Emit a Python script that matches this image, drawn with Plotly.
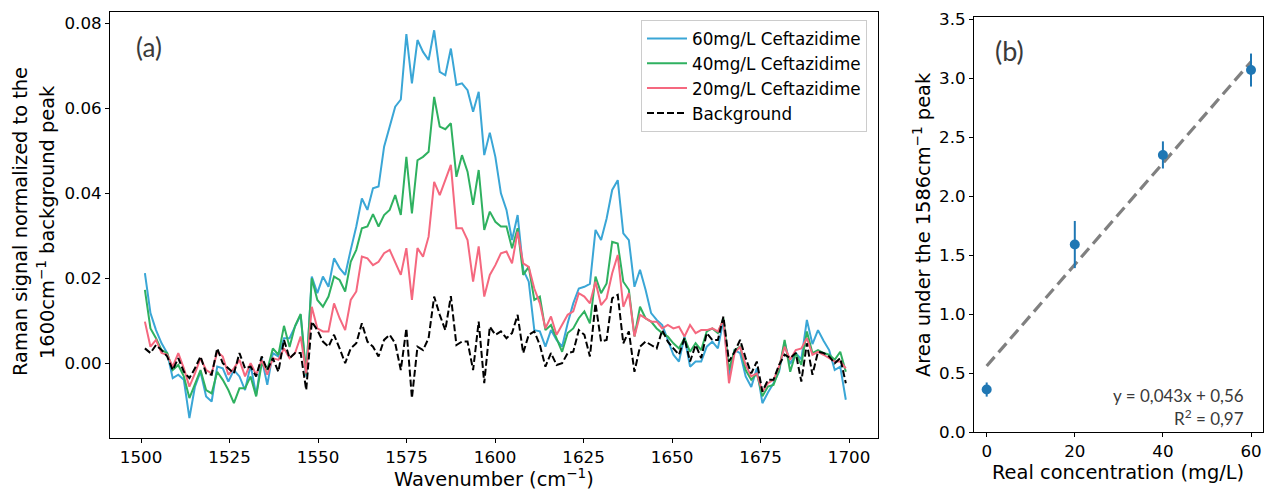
import numpy as np
import plotly.graph_objects as go

W, H = 1266, 493

# ---------------- Panel (a) data ----------------
wavenumber = np.round(np.linspace(1501.1, 1699.1, 127), 2)

ceftazidime_60 = [
    0.0212, 0.0118, 0.0078, 0.0047, 0.0024, -0.0035, -0.0027, -0.0039, -0.0129, -0.0055,
    -0.0020, -0.0078, -0.0090, -0.0008, -0.0012, -0.0043, -0.0016, -0.0031, -0.0063, -0.0004,
    -0.0075, 0.0012, -0.0051, 0.0024, 0.0016, 0.0059, 0.0059, 0.0086, 0.0114, -0.0031,
    0.0204, 0.0165, 0.0204, 0.0180, 0.0247, 0.0224, 0.0208, 0.0267, 0.0322, 0.0388,
    0.0361, 0.0412, 0.0416, 0.0510, 0.0557, 0.0604, 0.0621, 0.0775, 0.0659, 0.0761,
    0.0733, 0.0714, 0.0784, 0.0686, 0.0678, 0.0741, 0.0655, 0.0659, 0.0643, 0.0592,
    0.0639, 0.0490, 0.0543, 0.0486, 0.0400, 0.0361, 0.0290, 0.0349, 0.0220, 0.0192,
    0.0078, 0.0075, 0.0039, 0.0078, 0.0055, 0.0039, 0.0094, 0.0141, 0.0176, 0.0180,
    0.0187, 0.0314, 0.0290, 0.0341, 0.0408, 0.0431, 0.0306, 0.0290, 0.0180, 0.0220,
    0.0173, 0.0118, 0.0102, 0.0090, 0.0055, 0.0020, 0.0004, 0.0063, -0.0008, 0.0004,
    0.0004, 0.0039, 0.0051, 0.0035, 0.0102, -0.0031, 0.0031, 0.0024, -0.0031, -0.0056,
    -0.0012, -0.0094, -0.0069, -0.0047, -0.0020, 0.0049, -0.0002, 0.0024, 0.0009, 0.0102,
    0.0045, 0.0078, 0.0053, 0.0031, -0.0016, -0.0008, -0.0086,
]

ceftazidime_40 = [
    0.0173, 0.0082, 0.0059, 0.0031, 0.0024, -0.0016, -0.0004, -0.0031, -0.0082, -0.0047,
    -0.0016, -0.0063, -0.0071, -0.0020, -0.0039, -0.0063, -0.0094, -0.0059, -0.0059, -0.0031,
    -0.0078, 0.0000, -0.0016, 0.0035, 0.0020, 0.0088, 0.0038, 0.0088, 0.0116, -0.0027,
    0.0200, 0.0149, 0.0133, 0.0157, 0.0204, 0.0196, 0.0169, 0.0239, 0.0267, 0.0318,
    0.0322, 0.0351, 0.0322, 0.0349, 0.0361, 0.0396, 0.0349, 0.0486, 0.0353, 0.0478,
    0.0486, 0.0498, 0.0627, 0.0557, 0.0551, 0.0565, 0.0439, 0.0490, 0.0451, 0.0373,
    0.0455, 0.0314, 0.0357, 0.0333, 0.0322, 0.0322, 0.0271, 0.0318, 0.0208, 0.0227,
    0.0149, 0.0157, 0.0078, 0.0090, 0.0059, 0.0027, 0.0071, 0.0082, 0.0106, 0.0122,
    0.0094, 0.0204, 0.0165, 0.0188, 0.0286, 0.0282, 0.0192, 0.0173, 0.0063, 0.0133,
    0.0106, 0.0098, 0.0082, 0.0071, 0.0063, 0.0047, 0.0035, 0.0059, 0.0027, 0.0047,
    0.0031, 0.0075, 0.0082, 0.0071, 0.0106, -0.0016, 0.0031, 0.0039, -0.0016, -0.0039,
    -0.0024, -0.0078, -0.0055, -0.0051, -0.0016, 0.0055, -0.0020, 0.0024, -0.0004, 0.0075,
    0.0024, 0.0031, 0.0024, 0.0020, 0.0008, 0.0027, -0.0020,
]

ceftazidime_20 = [
    0.0098, 0.0039, 0.0055, 0.0024, 0.0020, -0.0008, 0.0024, -0.0012, -0.0055, -0.0024,
    0.0012, -0.0016, -0.0024, 0.0027, 0.0016, -0.0027, -0.0012, 0.0008, -0.0031, 0.0000,
    -0.0027, 0.0008, -0.0027, 0.0012, 0.0008, 0.0035, 0.0012, 0.0024, 0.0063, -0.0024,
    0.0133, 0.0082, 0.0075, 0.0075, 0.0141, 0.0106, 0.0078, 0.0149, 0.0169, 0.0251,
    0.0247, 0.0231, 0.0239, 0.0259, 0.0267, 0.0239, 0.0208, 0.0271, 0.0149, 0.0271,
    0.0251, 0.0298, 0.0427, 0.0396, 0.0431, 0.0467, 0.0318, 0.0318, 0.0290, 0.0192,
    0.0275, 0.0157, 0.0208, 0.0231, 0.0259, 0.0263, 0.0235, 0.0310, 0.0235, 0.0227,
    0.0176, 0.0141, 0.0082, 0.0110, 0.0067, 0.0090, 0.0114, 0.0122, 0.0165, 0.0157,
    0.0141, 0.0192, 0.0137, 0.0153, 0.0212, 0.0255, 0.0133, 0.0165, 0.0063, 0.0114,
    0.0106, 0.0098, 0.0098, 0.0082, 0.0090, 0.0082, 0.0086, 0.0063, 0.0090, 0.0071,
    0.0078, 0.0078, 0.0082, 0.0075, 0.0102, -0.0047, 0.0024, 0.0039, -0.0004, -0.0031,
    -0.0024, -0.0067, -0.0047, -0.0039, -0.0008, 0.0039, 0.0008, 0.0031, 0.0035, 0.0059,
    0.0020, 0.0027, 0.0020, 0.0012, 0.0004, 0.0004, -0.0012,
]

background = [
    0.0035, 0.0024, 0.0043, 0.0031, 0.0016, -0.0016, 0.0012, -0.0020, -0.0035, -0.0012,
    0.0016, -0.0024, -0.0027, 0.0035, 0.0000, -0.0012, -0.0024, 0.0024, -0.0012, -0.0008,
    -0.0031, 0.0016, -0.0016, 0.0012, -0.0020, 0.0055, 0.0012, 0.0024, 0.0024, -0.0063,
    0.0098, 0.0078, 0.0051, 0.0039, 0.0067, 0.0035, 0.0000, 0.0035, 0.0047, 0.0094,
    0.0051, 0.0039, 0.0016, 0.0055, 0.0067, 0.0047, -0.0016, 0.0082, -0.0082, 0.0039,
    0.0031, 0.0059, 0.0157, 0.0114, 0.0078, 0.0158, 0.0043, 0.0051, 0.0051, -0.0016,
    0.0098, -0.0047, 0.0086, 0.0067, 0.0075, 0.0059, 0.0071, 0.0114, 0.0024, 0.0067,
    0.0075, 0.0043, -0.0008, 0.0024, -0.0004, 0.0000, 0.0024, 0.0027, 0.0078, 0.0067,
    0.0016, 0.0141, 0.0051, 0.0055, 0.0153, 0.0161, 0.0047, 0.0075, -0.0020, 0.0039,
    0.0051, 0.0043, 0.0035, 0.0078, 0.0051, 0.0035, 0.0020, 0.0059, 0.0004, 0.0043,
    0.0012, 0.0071, 0.0055, 0.0055, 0.0110, 0.0004, 0.0027, 0.0055, 0.0012, -0.0024,
    0.0004, -0.0067, -0.0039, -0.0039, -0.0004, 0.0020, 0.0012, 0.0024, -0.0043, 0.0047,
    -0.0027, 0.0027, 0.0024, 0.0016, 0.0000, 0.0012, -0.0047,
]

series_names = ["60mg/L Ceftazidime", "40mg/L Ceftazidime", "20mg/L Ceftazidime", "Background"]

# ---------------- Panel (b) data ----------------
real_conc = [0, 20, 40, 60]
peak_area = [0.36, 1.59, 2.35, 3.07]
peak_area_err = [0.06, 0.20, 0.115, 0.14]
fit_slope = 0.043
fit_intercept = 0.56
fit_label = "y = 0,043x + 0,56"
r2_label = "R<sup>2</sup> = 0,97"

# ---------------- styling ----------------
FONT = "DejaVu Sans"
LBL = "Lato"
TITLE_SIZE = 19.4
colors = ["#3aa6d6", "#2fb160", "#f5687f", "black"]

def fx(p):
    return p / W

def fy(p):
    return 1 - p / H

fig = go.Figure()
ys = [ceftazidime_60, ceftazidime_40, ceftazidime_20, background]
for name, yv, col in zip(series_names, ys, colors):
    fig.add_trace(go.Scatter(
        x=wavenumber, y=yv, mode="lines", name=name,
        line=dict(color=col, width=2, dash="7px,3px" if name == "Background" else "solid"),
        xaxis="x", yaxis="y",
    ))

fit_x = [real_conc[0], real_conc[-1]]
fit_y = [fit_slope * v + fit_intercept for v in fit_x]
fig.add_trace(go.Scatter(
    x=fit_x, y=fit_y, mode="lines", showlegend=False,
    line=dict(color="#808080", width=3.2, dash="12px,6px"),
    xaxis="x2", yaxis="y2",
))
fig.add_trace(go.Scatter(
    x=real_conc, y=peak_area, mode="markers", showlegend=False,
    marker=dict(color="#1f77b4", size=10),
    error_y=dict(type="data", array=peak_area_err, color="#1f77b4", thickness=2, width=0),
    xaxis="x2", yaxis="y2",
))

axis_common = dict(
    showline=True, mirror=True, linecolor="black", linewidth=1,
    ticks="outside", ticklen=4, tickcolor="black", tickwidth=1,
    showgrid=False, zeroline=False,
    tickfont=dict(family=FONT, size=16.7, color="black"),
    automargin=False,
)

fig.update_layout(
    width=W, height=H,
    margin=dict(l=0, r=0, t=0, b=0),
    paper_bgcolor="white", plot_bgcolor="white",
    xaxis=dict(domain=[fx(110), fx(878)], range=[1491.24, 1708.19],
               tickvals=[1500, 1525, 1550, 1575, 1600, 1625, 1650, 1675, 1700],
               anchor="y", **axis_common),
    yaxis=dict(domain=[fy(438), fy(12)], range=[-0.0176, 0.0827],
               tickvals=[0.0, 0.02, 0.04, 0.06, 0.08], tickformat=".2f",
               anchor="x", **axis_common),
    xaxis2=dict(domain=[fx(974), fx(1263)], range=[-2.88, 62.72],
                tickvals=[0, 20, 40, 60], anchor="y2", **axis_common),
    yaxis2=dict(domain=[fy(432), fy(17)], range=[0, 3.52],
                tickvals=[0, 0.5, 1.0, 1.5, 2.0, 2.5, 3.0, 3.5], tickformat=".1f",
                anchor="x2", **axis_common),
    legend=dict(
        x=fx(867), y=fy(20), xanchor="right", yanchor="top",
        bgcolor="rgba(255,255,255,0.85)", bordercolor="#cccccc", borderwidth=1,
        font=dict(family=FONT, size=16.8, color="black"),
        itemwidth=40, tracegroupgap=0,
    ),
)

annotations = [
    dict(text="Wavenumber (cm<sup>−1</sup>)", x=fx(494), y=fy(478), font=dict(size=TITLE_SIZE)),
    dict(text="Raman signal normalized to the", x=fx(20), y=fy(222), textangle=-90, font=dict(size=TITLE_SIZE)),
    dict(text="1600cm<sup>−1</sup> background peak", x=fx(46), y=fy(222), textangle=-90, font=dict(size=TITLE_SIZE)),
    dict(text="Real concentration (mg/L)", x=fx(1118), y=fy(472), font=dict(size=TITLE_SIZE)),
    dict(text="Area under the 1586cm<sup>−1</sup> peak", x=fx(922), y=fy(225), textangle=-90, font=dict(size=TITLE_SIZE)),
    dict(text="(a)", x=fx(149), y=fy(47), font=dict(family=LBL, size=26, color="#3a3a3a")),
    dict(text="(b)", x=fx(1010), y=fy(50), font=dict(family=LBL, size=27, color="#3a3a3a")),
    dict(text=fit_label, x=fx(1246), y=fy(395), xanchor="right", font=dict(family=LBL, size=17, color="#3a3a3a")),
    dict(text=r2_label, x=fx(1246), y=fy(417), xanchor="right", font=dict(family=LBL, size=17, color="#3a3a3a")),
]
for a in annotations:
    a.setdefault("xanchor", "center")
    a["yanchor"] = "middle"
    a["xref"] = "paper"
    a["yref"] = "paper"
    a["showarrow"] = False
    f = a["font"]
    f.setdefault("family", FONT)
    f.setdefault("color", "black")
fig.update_layout(annotations=annotations)

fig.write_html(
    "out.html",
    config={"displayModeBar": False},
    post_script="document.body.style.margin='0';document.body.style.padding='0';",
)
